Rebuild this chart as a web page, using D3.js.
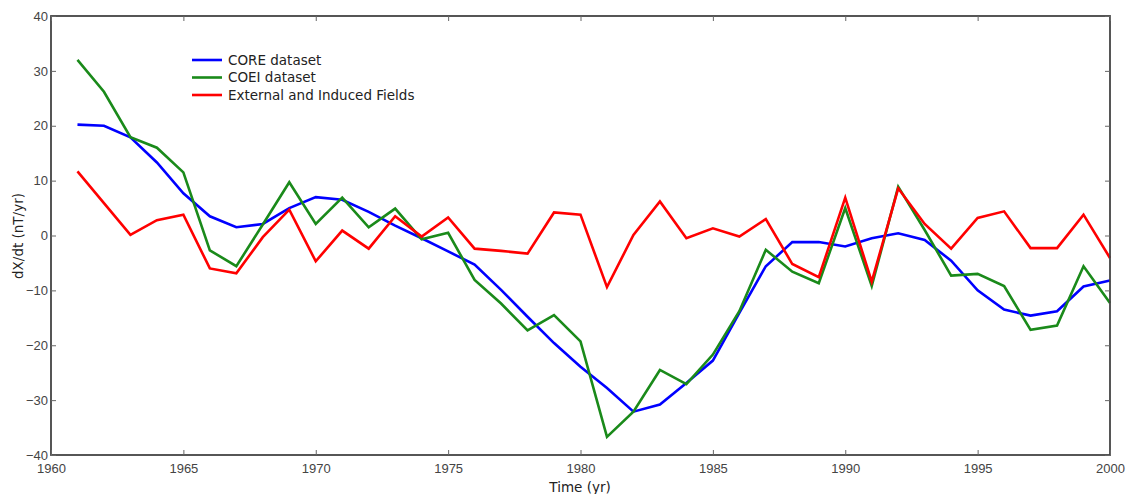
<!DOCTYPE html>
<html><head><meta charset="utf-8">
<script src="https://cdn.jsdelivr.net/npm/d3@7"></script>
<style>body{margin:0;background:#fff;} text{font-family:"DejaVu Sans",sans-serif;}</style>
</head><body>
<svg id="c" width="1131" height="494"></svg>
<script>
const years = d3.range(1961, 2001);
const core = [20.2,20.0,17.9,13.3,7.7,3.5,1.5,2.1,5.0,7.0,6.5,4.3,1.8,-0.5,-2.9,-5.3,-9.9,-14.8,-19.6,-23.9,
  -27.8,-32.1,-30.8,-26.9,-22.8,-14.1,-5.6,-1.2,-1.2,-2.0,-0.5,0.4,-0.8,-4.6,-10.0,-13.5,-14.6,-13.8,-9.3,-8.2];
const coei = [32.0,26.2,17.9,16.0,11.5,-2.7,-5.6,2.0,9.7,2.1,6.9,1.5,4.9,-0.7,0.5,-8.1,-12.4,-17.3,-14.5,-19.3,
  -36.7,-32.1,-24.5,-27.1,-21.7,-13.8,-2.6,-6.6,-8.7,5.0,-9.2,8.9,1.0,-7.3,-7.0,-9.2,-17.2,-16.4,-5.6,-12.3];
const ext = [11.7,5.9,0.1,2.8,3.8,-6.0,-6.9,-0.3,4.7,-4.7,0.9,-2.4,3.5,-0.2,3.3,-2.4,-2.8,-3.3,4.2,3.8,
  -9.4,0.1,6.2,-0.5,1.3,-0.2,3.0,-5.2,-7.6,6.9,-8.4,8.6,2.1,-2.4,3.2,4.4,-2.3,-2.3,3.8,-4.1];
const seriesNames = ["CORE dataset","COEI dataset","External and Induced Fields"];
const seriesColors = ["#0000ff","#1a8a1a","#ff0000"];
const xTicks = [1960,1965,1970,1975,1980,1985,1990,1995,2000];
const yTicks = [-40,-30,-20,-10,0,10,20,30,40];

const svg = d3.select("#c");
const L=51, R=1110, T=16, B=455;
const x = d3.scaleLinear().domain([1960,2000]).range([L,R]);
const y = d3.scaleLinear().domain([-40,40]).range([B,T]);
const axisColor="#444";
const fmt = d => String(d).replace("-","\u2212");

const line = d3.line().x((d,i)=>x(years[i])).y(d=>y(d));
[core,coei,ext].forEach((s,k)=>{
  svg.append("path").datum(s).attr("d",line).attr("fill","none")
    .attr("stroke",seriesColors[k]).attr("stroke-width",2.6).attr("stroke-linejoin","miter");
});

// frame
svg.append("rect").attr("x",L).attr("y",T).attr("width",R-L).attr("height",B-T)
  .attr("fill","none").attr("stroke",axisColor).attr("stroke-width",1.8);

function styleAxis(g){
  g.select(".domain").remove();
  g.selectAll(".tick line").attr("stroke","#666").attr("stroke-width",1);
  g.selectAll(".tick text").attr("fill","#444").style("font-family","'Liberation Sans',Arial,sans-serif")
    .style("font-size","13px");
}
svg.append("g").attr("transform",`translate(0,${B})`)
  .call(d3.axisBottom(x).tickValues(xTicks).tickFormat(d=>d).tickSizeInner(-5).tickPadding(9)).call(styleAxis);
svg.append("g").attr("transform",`translate(0,${T})`)
  .call(d3.axisTop(x).tickValues(xTicks).tickFormat("").tickSizeInner(-5)).call(styleAxis);
svg.append("g").attr("transform",`translate(${L},0)`)
  .call(d3.axisLeft(y).tickValues(yTicks).tickFormat(fmt).tickSizeInner(-5).tickPadding(3)).call(styleAxis);
svg.append("g").attr("transform",`translate(${R},0)`)
  .call(d3.axisRight(y).tickValues(yTicks).tickFormat("").tickSizeInner(-5)).call(styleAxis);

// legend
const lg = svg.append("g");
seriesNames.forEach((n,k)=>{
  const yy = 60 + k*17.5;
  lg.append("line").attr("x1",192).attr("x2",222).attr("y1",yy).attr("y2",yy)
    .attr("stroke",seriesColors[k]).attr("stroke-width",2.6);
  lg.append("text").attr("x",228).attr("y",yy).attr("dy","0.35em").attr("font-size",13.5)
    .attr("fill","#222").text(n);
});

svg.append("text").attr("x",580).attr("y",487).attr("dy","0.35em").attr("text-anchor","middle")
  .attr("font-size",13.5).attr("fill","#222").text("Time (yr)");
svg.append("text").attr("transform","translate(18,236) rotate(-90)").attr("dy","0.35em")
  .attr("text-anchor","middle").attr("font-size",13.5).attr("fill","#222").text("dX/dt (nT/yr)");
</script>
</body></html>
